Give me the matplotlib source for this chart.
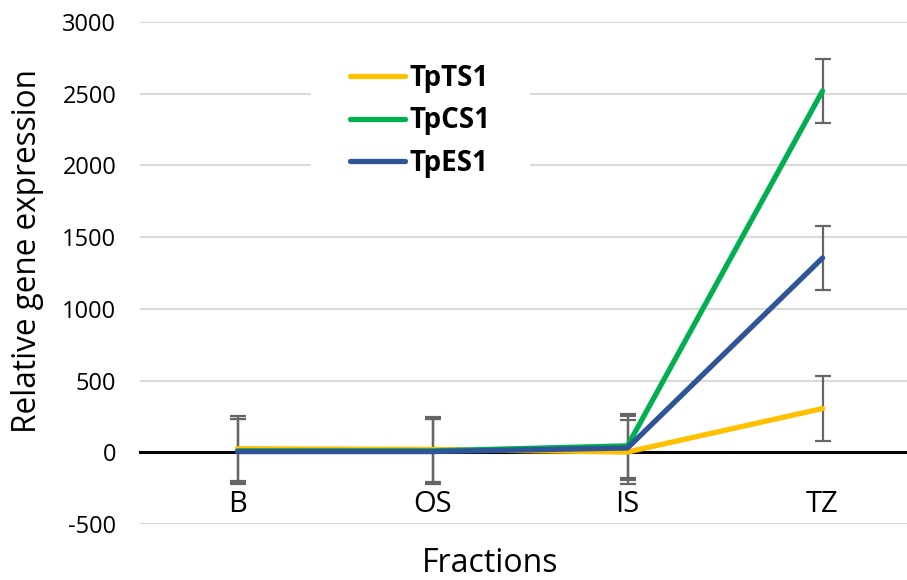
import matplotlib
matplotlib.use("Agg")
import matplotlib.pyplot as plt
import numpy as np

categories = ["B", "OS", "IS", "TZ"]
series_names = ["TpTS1", "TpCS1", "TpES1"]
tpts1 = [25, 20, 2, 305]
tpcs1 = [10, 10, 45, 2520]
tpes1 = [5, 5, 30, 1355]
err_tpts1 = [225, 225, 225, 225]
err_tpcs1 = [225, 225, 225, 225]
err_tpes1 = [225, 225, 225, 225]
yticks = [-500, 0, 500, 1000, 1500, 2000, 2500, 3000]

colors = ["#FFC000", "#00B050", "#2F5597"]

plt.rcParams['font.family'] = ['Open Sans', 'DejaVu Sans']

fig = plt.figure(figsize=(9.07, 5.8), dpi=100)
ax = fig.add_axes([140/907, 56/580, 1 - 140/907, (524-22)/580])

x = np.arange(len(categories))
data = [tpts1, tpcs1, tpes1]
errs = [err_tpts1, err_tpcs1, err_tpes1]

for vals, e in zip(data, errs):
    ax.errorbar(x, vals, yerr=e, fmt='none', ecolor='#666666', elinewidth=1.6,
                capsize=6, capthick=1.6, zorder=3)
lines = []
for vals, name, c in zip(data, series_names, colors):
    l, = ax.plot(x, vals, color=c, lw=3.8, solid_capstyle='round', label=name, zorder=4)
    lines.append(l)

for s in ['top', 'right', 'left']:
    ax.spines[s].set_visible(False)
ax.spines['bottom'].set_position(('data', 0))
ax.spines['bottom'].set_linewidth(2.2)
ax.spines['bottom'].set_color('black')
ax.spines['bottom'].set_zorder(2)

ax.set_xlim(-0.5, 3.433)
ax.set_ylim(-500, 3000)
ax.set_yticks(yticks)
ax.set_yticklabels([str(v) for v in yticks], fontsize=17)
ax.set_xticks(x)
ax.set_xticklabels(categories, fontsize=21)
ax.tick_params(axis='y', length=0, pad=17)
ax.tick_params(axis='x', length=0, pad=27)
ax.grid(axis='y', color='#D9D9D9', lw=1.5, zorder=0)
ax.set_axisbelow(True)

fig.text(28/907, 1 - 251/580, "Relative gene expression", fontsize=22.7, rotation=90,
         ha='center', va='center')
fig.text(490/907, 1 - 563/580, "Fractions", fontsize=23, ha='center', va='center')

leg = ax.legend(handles=lines, loc='upper left', bbox_to_anchor=((311-140)/767, (524-25)/502),
                frameon=True, fancybox=False, edgecolor='none', facecolor='white', framealpha=1,
                prop={'weight': 'bold', 'size': 20}, handlelength=2.0, handletextpad=0.15,
                labelspacing=0.48, borderpad=1.4, borderaxespad=0)
for h in leg.get_lines():
    h.set_linewidth(3.8)
    h.set_solid_capstyle('round')

fig.savefig("out.png", dpi=100)
